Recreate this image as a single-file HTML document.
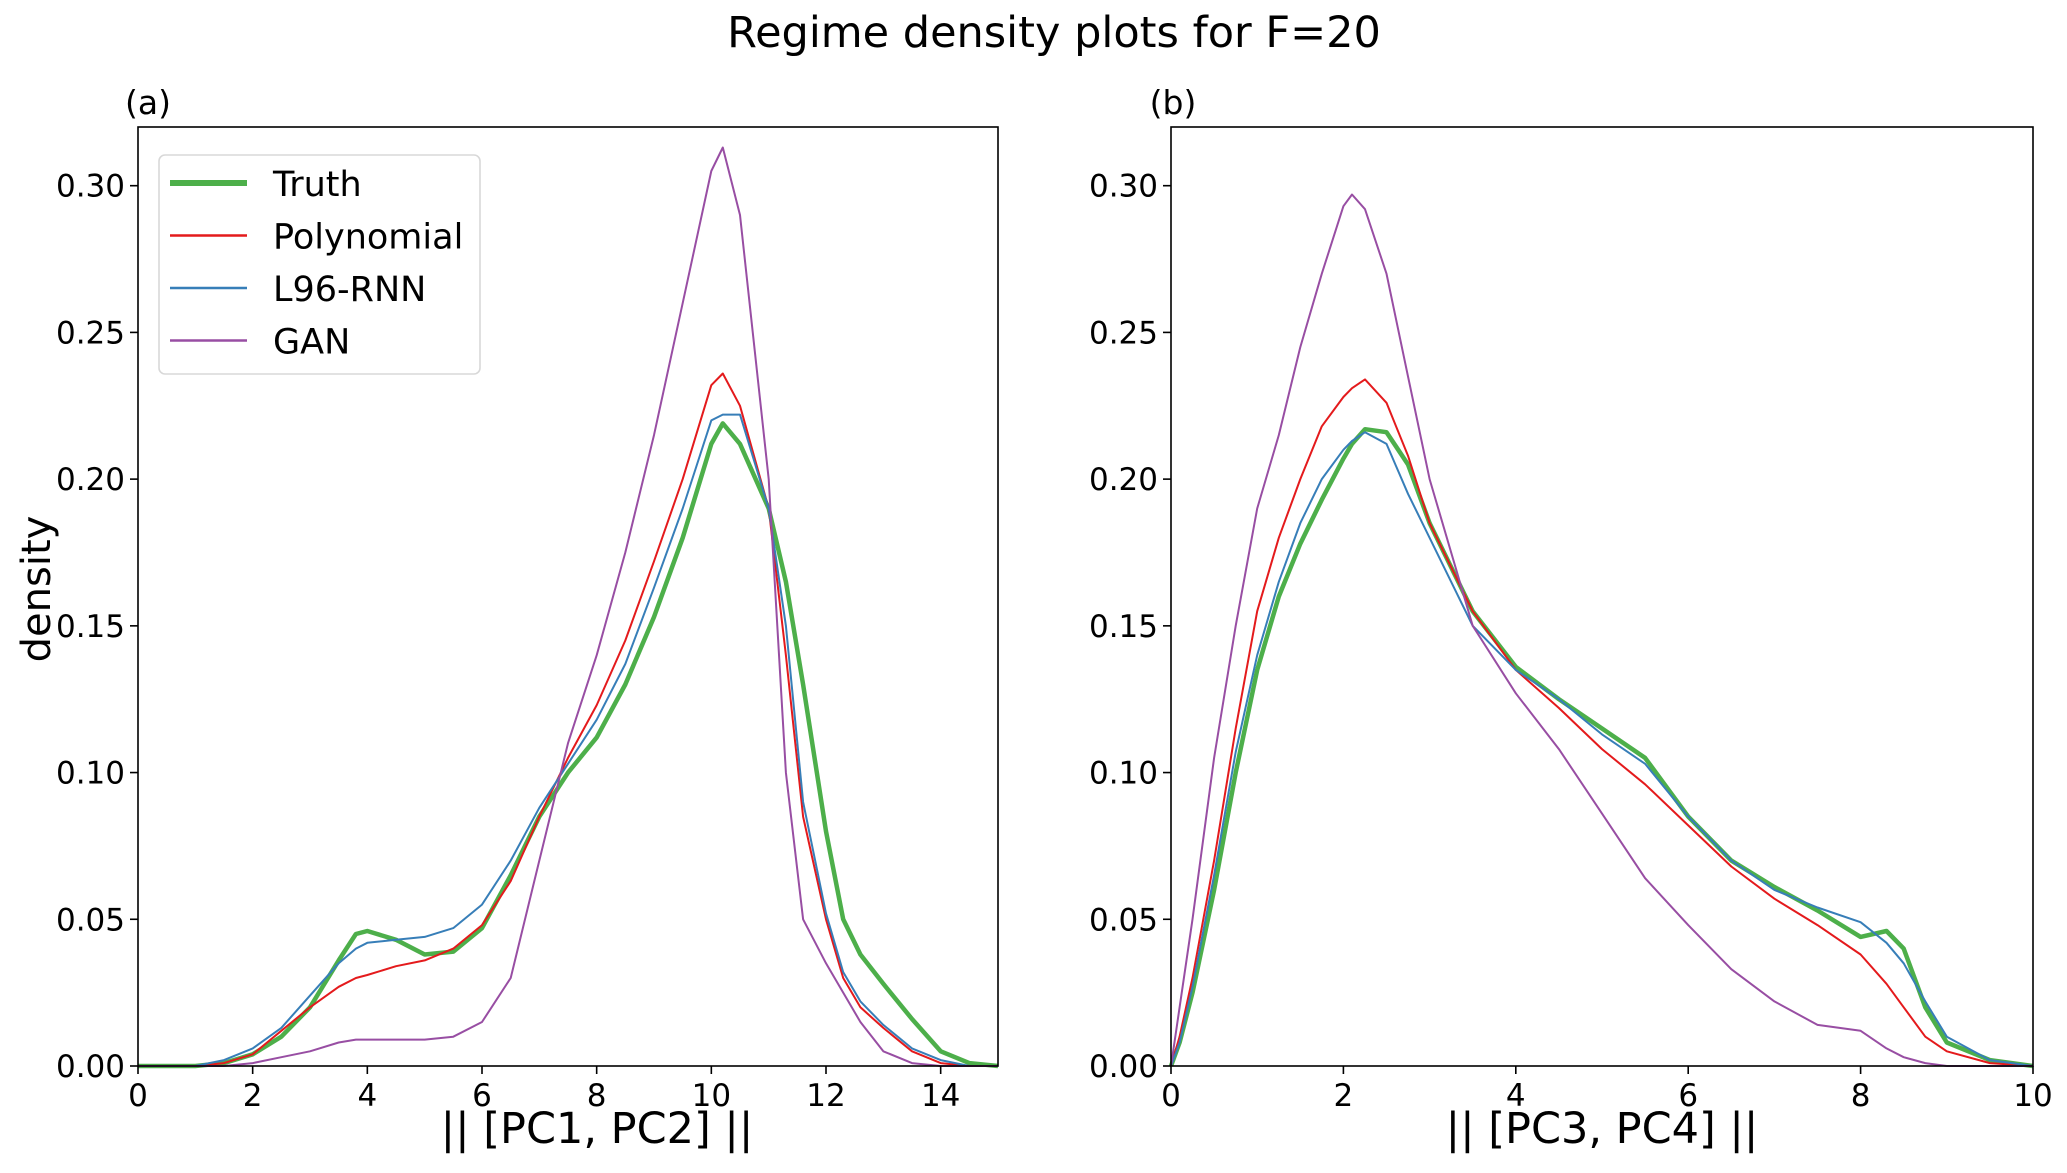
<!DOCTYPE html>
<html><head><meta charset="utf-8"><style>
body{margin:0;background:#fff;}
svg text{font-family:"DejaVu Sans","Liberation Sans",sans-serif;fill:#000;}
</style></head><body>
<svg id="fig" width="2067" height="1168" viewBox="0 0 2067 1168" xmlns="http://www.w3.org/2000/svg">
<text x="1054" y="47" font-size="43" text-anchor="middle">Regime density plots for F=20</text>
<text x="148" y="114" font-size="33" text-anchor="middle">(a)</text>
<text x="1173" y="114" font-size="33" text-anchor="middle">(b)</text>
<text transform="translate(50,589) rotate(-90)" font-size="40" text-anchor="middle">density</text>
<g id="pa"></g>
<g id="pb"></g>
</svg>
<script>
const colors = {truth:"#4daf4a", poly:"#e41a1c", rnn:"#377eb8", gan:"#984ea3"};
const yTicks = [0,0.05,0.10,0.15,0.20,0.25,0.30];
const yTickLabels = ["0.00","0.05","0.10","0.15","0.20","0.25","0.30"];

const xA = [0,1,1.5,2,2.5,3,3.5,3.8,4,4.5,5,5.5,6,6.5,7,7.5,8,8.5,9,9.5,10,10.2,10.5,11,11.3,11.6,12,12.3,12.6,13,13.5,14,14.5,15];
const truthA = [0,0,0.001,0.004,0.01,0.02,0.036,0.045,0.046,0.043,0.038,0.039,0.047,0.065,0.085,0.1,0.112,0.13,0.153,0.18,0.212,0.219,0.212,0.19,0.165,0.13,0.08,0.05,0.038,0.028,0.016,0.005,0.001,0];
const polyA = [0,0,0.001,0.004,0.012,0.02,0.027,0.03,0.031,0.034,0.036,0.04,0.048,0.063,0.085,0.105,0.123,0.145,0.172,0.2,0.232,0.236,0.225,0.19,0.14,0.085,0.05,0.03,0.02,0.013,0.005,0.001,0,0];
const rnnA = [0,0,0.002,0.006,0.013,0.024,0.035,0.04,0.042,0.043,0.044,0.047,0.055,0.07,0.088,0.103,0.118,0.137,0.163,0.19,0.22,0.222,0.222,0.19,0.15,0.09,0.052,0.032,0.022,0.014,0.006,0.002,0,0];
const ganA = [0,0,0,0.001,0.003,0.005,0.008,0.009,0.009,0.009,0.009,0.01,0.015,0.03,0.07,0.11,0.14,0.175,0.215,0.26,0.305,0.313,0.29,0.2,0.1,0.05,0.035,0.025,0.015,0.005,0.001,0,0,0];
const xTicksA = [0,2,4,6,8,10,12,14];

const xB = [0,0.1,0.25,0.5,0.75,1,1.25,1.5,1.75,2,2.1,2.25,2.5,2.75,3,3.5,4,4.5,5,5.5,6,6.5,7,7.5,8,8.3,8.5,8.75,9,9.5,10];
const truthB = [0,0.008,0.025,0.06,0.1,0.135,0.16,0.178,0.193,0.207,0.212,0.217,0.216,0.205,0.185,0.155,0.136,0.125,0.115,0.105,0.085,0.07,0.061,0.053,0.044,0.046,0.04,0.02,0.008,0.002,0];
const polyB = [0,0.01,0.03,0.07,0.115,0.155,0.18,0.2,0.218,0.228,0.231,0.234,0.226,0.208,0.185,0.155,0.135,0.122,0.108,0.096,0.082,0.068,0.057,0.048,0.038,0.028,0.02,0.01,0.005,0.001,0];
const rnnB = [0,0.008,0.027,0.065,0.107,0.14,0.165,0.185,0.2,0.21,0.213,0.216,0.212,0.195,0.18,0.15,0.135,0.125,0.113,0.103,0.085,0.07,0.06,0.054,0.049,0.042,0.035,0.022,0.01,0.002,0];
const ganB = [0,0.02,0.05,0.105,0.15,0.19,0.215,0.245,0.27,0.293,0.297,0.292,0.27,0.235,0.2,0.15,0.127,0.108,0.086,0.064,0.048,0.033,0.022,0.014,0.012,0.006,0.003,0.001,0,0,0];
const xTicksB = [0,2,4,6,8,10];

const NS = "http://www.w3.org/2000/svg";
function mk(tag, attrs, parent){const e=document.createElementNS(NS,tag);for(const k in attrs)e.setAttribute(k,attrs[k]);parent.appendChild(e);return e;}

function panel(g, L, R, xmax, xs, series, xTicks, xlabel, xlabelX, legend, pfx){
  const T=127, B=1066, ymax=0.32;
  const sx = v => L + v/xmax*(R-L);
  const sy = v => B - v/ymax*(B-T);
  const draw = [["truth",series.truth,4.5],["poly",series.poly,2],["rnn",series.rnn,2],["gan",series.gan,2]];
  for(const [k,vals,w] of draw){
    const pts = xs.map((x,i)=>sx(x).toFixed(1)+","+sy(vals[i]).toFixed(1)).join(" ");
    const p = mk("polyline",{points:pts,fill:"none",stroke:colors[k],"stroke-width":w,"stroke-linejoin":"round"},g);
    
    
  }
  const frame = mk("rect",{x:L,y:T,width:R-L,height:B-T,fill:"none",stroke:"#000","stroke-width":1.6},g);
  
  
  yTicks.forEach((v,i)=>{
    const y=sy(v);
    const t=mk("line",{x1:L-8,x2:L,y1:y,y2:y,stroke:"#000","stroke-width":1.6},g);
    
    
    const tx=mk("text",{x:L-13,y:y+11,"font-size":31,"text-anchor":"end"},g);
    tx.textContent=yTickLabels[i];
    
    
  });
  xTicks.forEach(v=>{
    const x=sx(v);
    const t=mk("line",{x1:x,x2:x,y1:B,y2:B+8,stroke:"#000","stroke-width":1.6},g);
    
    
    const tx=mk("text",{x:x,y:B+40,"font-size":31,"text-anchor":"middle"},g);
    tx.textContent=String(v);
    
    
  });
  const xl=mk("text",{x:xlabelX,y:1143,"font-size":43,"text-anchor":"middle"},g);
  xl.textContent=xlabel;
  
  
  if(legend){
    const lg=mk("g",{},g);
    
    
    mk("rect",{x:159,y:155,width:321,height:219,rx:6,fill:"#fff",stroke:"#d8d8d8","stroke-width":1.6},lg);
    const names=[["truth","Truth",6],["poly","Polynomial",2.5],["rnn","L96-RNN",2.5],["gan","GAN",2.5]];
    names.forEach(([k,n,w],i)=>{
      const y=183+i*52.5;
      const ln=mk("line",{x1:170,x2:247,y1:y,y2:y,stroke:colors[k],"stroke-width":w},lg);
      
      
      const t=mk("text",{x:273,y:y+13,"font-size":35},lg);
      t.textContent=n;
      
      
    });
  }
}
panel(document.getElementById("pa"),138,998,15,xA,{truth:truthA,poly:polyA,rnn:rnnA,gan:ganA},xTicksA,"|| [PC1, PC2] ||",597,true,"a");
panel(document.getElementById("pb"),1171,2033,10,xB,{truth:truthB,poly:polyB,rnn:rnnB,gan:ganB},xTicksB,"|| [PC3, PC4] ||",1602,false,"b");
</script>
</body></html>
